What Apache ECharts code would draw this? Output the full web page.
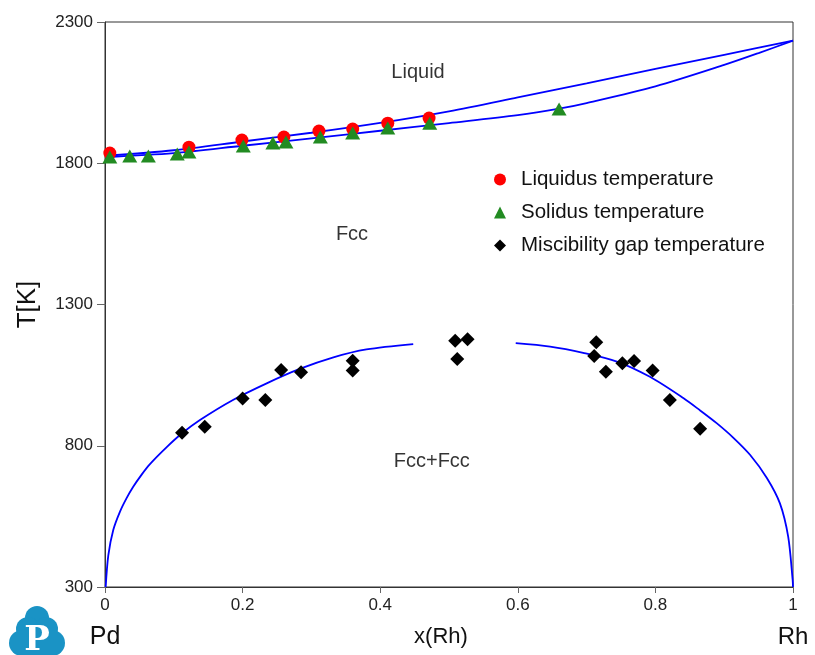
<!DOCTYPE html>
<html>
<head>
<meta charset="utf-8">
<script src="https://cdn.jsdelivr.net/npm/echarts@6/dist/echarts.min.js"></script>
<style>
  html, body { margin: 0; padding: 0; background: #ffffff; }
  #chart { width: 815px; height: 655px; }
</style>
</head>
<body>
<div id="chart"></div>
<script>
// Pd-Rh binary phase diagram: calculated boundaries and measured temperatures.

// Composition x(Rh) and temperature ticks
const xTicks = [0, 0.2, 0.4, 0.6, 0.8, 1];
const yTicks = [300, 800, 1300, 1800, 2300];

// Calculated liquidus boundary [x(Rh), T/K]
const liquidusCurve = [
  [0, 1826], [0.1, 1846], [0.2, 1877], [0.3, 1908], [0.4, 1943],
  [0.5, 1984], [0.6, 2033], [0.7, 2083], [0.8, 2134], [0.9, 2184],
  [1, 2234]
];

// Calculated solidus boundary [x(Rh), T/K]
const solidusCurve = [
  [0, 1822], [0.1, 1836], [0.2, 1862], [0.3, 1888], [0.4, 1915],
  [0.5, 1942], [0.6, 1970], [0.66, 1993], [0.7, 2013], [0.8, 2072],
  [0.9, 2148], [0.95, 2190], [1, 2234]
];

// Calculated miscibility gap, Pd-rich branch
const gapCurvePd = [
  [0.001, 300], [0.0048, 412], [0.012, 502], [0.0218, 567], [0.031, 613],
  [0.041, 655], [0.053, 697], [0.065, 734], [0.0897, 795], [0.112, 844],
  [0.138, 891], [0.186, 962], [0.235, 1021], [0.283, 1072], [0.332, 1113],
  [0.380, 1141], [0.448, 1160]
];

// Calculated miscibility gap, Rh-rich branch
const gapCurveRh = [
  [0.597, 1163], [0.647, 1151], [0.695, 1129], [0.744, 1098], [0.792, 1044],
  [0.841, 968], [0.865, 925], [0.889, 880], [0.913, 829], [0.9375, 768],
  [0.962, 686], [0.981, 596], [0.993, 478], [0.9995, 325], [1, 300]
];

// Measured liquidus temperatures
const liquidusData = [
  [0.007, 1836], [0.122, 1857], [0.199, 1882], [0.260, 1893],
  [0.311, 1914], [0.360, 1921], [0.411, 1942], [0.471, 1960]
];

// Measured solidus temperatures
const solidusData = [
  [0.007, 1822], [0.036, 1826], [0.063, 1826], [0.105, 1833], [0.122, 1840],
  [0.201, 1861], [0.244, 1872], [0.263, 1875], [0.313, 1893], [0.360, 1907],
  [0.411, 1925], [0.472, 1942], [0.660, 1992]
];

// Measured miscibility gap temperatures
const gapData = [
  [0.112, 846], [0.145, 867], [0.200, 967], [0.233, 962], [0.256, 1068],
  [0.285, 1060], [0.360, 1101], [0.360, 1066], [0.509, 1172], [0.527, 1177],
  [0.512, 1107], [0.714, 1166], [0.711, 1118], [0.728, 1062], [0.752, 1092],
  [0.769, 1100], [0.796, 1066], [0.821, 962], [0.865, 860]
];

const FONT = '"Liberation Sans", Arial, sans-serif';
const LINE_BLUE = '#0000ff';
const LOGO_BLUE = '#1a93c5';

const chart = echarts.init(document.getElementById('chart'), null, { renderer: 'canvas' });

function curve(data) {
  return {
    type: 'line', data: data, showSymbol: false, symbol: 'none',
    smooth: 0.3,
    lineStyle: { color: LINE_BLUE, width: 1.8 }, z: 2, silent: true
  };
}

chart.setOption({
  backgroundColor: '#ffffff',
  animation: false,
  grid: {
    left: 105, right: 22, top: 22, bottom: 68,
    show: true, borderColor: '#333', borderWidth: 1, backgroundColor: 'transparent'
  },
  legend: {
    data: ['Liquidus temperature', 'Solidus temperature', 'Miscibility gap temperature'],
    orient: 'vertical',
    left: 489, top: 164,
    itemGap: 12, itemWidth: 12, itemHeight: 12,
    textStyle: { fontFamily: FONT, fontSize: 20.5, color: '#111', padding: [0, 0, 0, 10] }
  },
  xAxis: {
    type: 'value', min: 0, max: 1, interval: 0.2,
    axisLine: { show: true, lineStyle: { color: '#333', width: 1 } },
    axisTick: { show: true, length: 6, lineStyle: { color: '#666' } },
    axisLabel: {
      fontFamily: FONT, fontSize: 17, color: '#222', margin: 10,
      formatter: v => xTicks.includes(+v.toFixed(2)) ? String(+v.toFixed(2)) : ''
    },
    splitLine: { show: false }
  },
  yAxis: {
    type: 'value', min: 300, max: 2300, interval: 500,
    name: 'T[K]', nameLocation: 'middle', nameGap: 64,
    nameTextStyle: { fontFamily: FONT, fontSize: 26, color: '#111' },
    axisLine: { show: true, lineStyle: { color: '#333', width: 1 } },
    axisTick: { show: true, length: 8, lineStyle: { color: '#666' } },
    axisLabel: {
      fontFamily: FONT, fontSize: 17, color: '#222', margin: 12,
      formatter: v => yTicks.includes(v) ? String(v) : ''
    },
    splitLine: { show: false }
  },
  series: [
    curve(liquidusCurve),
    curve(solidusCurve),
    curve(gapCurvePd),
    curve(gapCurveRh),
    {
      name: 'Liquidus temperature', type: 'scatter', data: liquidusData,
      symbol: 'circle', symbolSize: 13, itemStyle: { color: '#ff0000', opacity: 1 }, z: 3
    },
    {
      name: 'Solidus temperature', type: 'scatter', data: solidusData,
      symbol: 'triangle', symbolSize: [15, 13], itemStyle: { color: '#228b22', opacity: 1 }, z: 4
    },
    {
      name: 'Miscibility gap temperature', type: 'scatter', data: gapData,
      symbol: 'diamond', symbolSize: 14, itemStyle: { color: '#000000', opacity: 1 }, z: 4
    },
    {
      // phase region names
      type: 'scatter', symbol: 'circle', symbolSize: 1, silent: true, z: 5,
      itemStyle: { color: 'rgba(0,0,0,0)' },
      label: {
        show: true, position: 'inside', formatter: p => p.name,
        fontFamily: FONT, fontSize: 20, color: '#000'
      },
      data: [
        { name: 'Liquid', value: [0.455, 2121] },
        { name: 'Fcc', value: [0.359, 1547] },
        { name: 'Fcc+Fcc', value: [0.475, 743] }
      ]
    }
  ],
  graphic: [
    {
      type: 'text', silent: true,
      style: { text: 'x(Rh)', x: 441, y: 637, align: 'center', verticalAlign: 'middle',
               font: '22px ' + FONT, fill: '#111' }
    },
    {
      type: 'text', silent: true,
      style: { text: 'Pd', x: 105, y: 637, align: 'center', verticalAlign: 'middle',
               font: '25px ' + FONT, fill: '#111' }
    },
    {
      type: 'text', silent: true,
      style: { text: 'Rh', x: 793, y: 637, align: 'center', verticalAlign: 'middle',
               font: '24px ' + FONT, fill: '#111' }
    },
    {
      // company logo: cloud with a "P"
      type: 'group', silent: true,
      children: [
        { type: 'circle', shape: { cx: 37, cy: 618, r: 12 }, style: { fill: LOGO_BLUE } },
        { type: 'circle', shape: { cx: 28, cy: 629, r: 12 }, style: { fill: LOGO_BLUE } },
        { type: 'circle', shape: { cx: 46, cy: 629, r: 12 }, style: { fill: LOGO_BLUE } },
        { type: 'circle', shape: { cx: 22, cy: 643, r: 13 }, style: { fill: LOGO_BLUE } },
        { type: 'circle', shape: { cx: 52, cy: 643, r: 13 }, style: { fill: LOGO_BLUE } },
        { type: 'rect', shape: { x: 22, y: 628, width: 30, height: 28 }, style: { fill: LOGO_BLUE } },
        { type: 'text', style: { text: 'P', x: 37, y: 641, align: 'center', verticalAlign: 'middle',
            font: 'bold 34px "DejaVu Serif", "Liberation Serif", serif', fill: '#ffffff' } }
      ]
    }
  ]
});
</script>
</body>
</html>
